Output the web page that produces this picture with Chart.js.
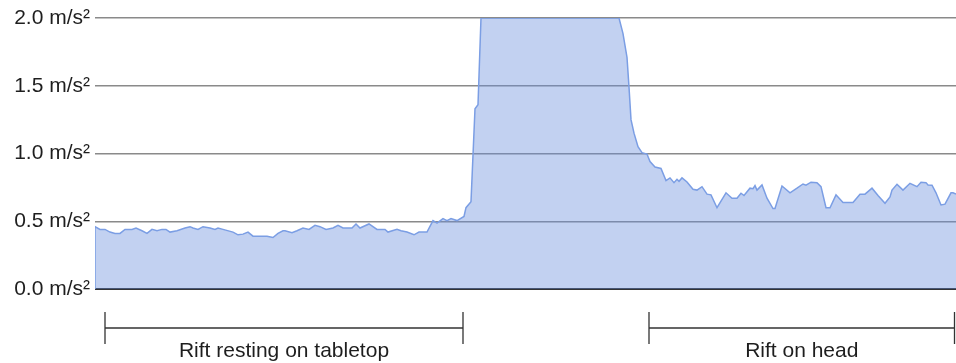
<!DOCTYPE html>
<html>
<head>
<meta charset="utf-8">
<script src="https://cdn.jsdelivr.net/npm/chart.js@4/dist/chart.umd.min.js"></script>
<style>
  html, body { margin: 0; padding: 0; background: #fff; }
  #wrap { width: 956px; height: 363px; position: relative; }
</style>
</head>
<body>
<div id="wrap"><canvas id="c"></canvas></div>
<script>
// sample index (time) and acceleration in m/s²
const times = [0,0,5,10,15,20,25,30,37,41,47,52,57,62,67,71,75,82,90,95,98,103,108,115,120,123,128,138,143,148,153,158,172,178,183,188,190,197,202,208,214,220,225,231,238,243,248,257,261,265,274,282,290,293,302,306,312,319,324,332,338,342,348,352,356,362,369,371,376,380,383,386,524,528,532,534,536,539,543,547,552,555,560,566,571,575,579,582,584,587,592,598,602,607,612,616,622,631,637,642,646,649,655,658,660,662,667,672,678,680,687,695,702,708,711,716,722,726,731,735,741,748,758,765,770,777,783,790,795,797,802,808,815,822,826,831,833,837,841,846,850,856,858,861];
const accel = [0,0.46,0.44,0.44,0.42,0.41,0.41,0.44,0.44,0.45,0.43,0.41,0.44,0.43,0.44,0.44,0.42,0.43,0.45,0.46,0.45,0.44,0.46,0.45,0.44,0.45,0.44,0.42,0.40,0.405,0.42,0.39,0.39,0.38,0.41,0.43,0.43,0.415,0.43,0.45,0.44,0.47,0.46,0.44,0.45,0.47,0.45,0.45,0.48,0.45,0.48,0.44,0.44,0.42,0.44,0.43,0.42,0.40,0.42,0.42,0.505,0.486,0.52,0.505,0.52,0.505,0.535,0.60,0.645,1.33,1.36,2.0,2.0,1.885,1.71,1.49,1.25,1.15,1.05,1.006,0.996,0.94,0.90,0.89,0.80,0.82,0.785,0.81,0.795,0.82,0.79,0.736,0.73,0.755,0.70,0.695,0.60,0.71,0.67,0.67,0.707,0.69,0.744,0.74,0.763,0.73,0.768,0.67,0.594,0.594,0.76,0.71,0.744,0.775,0.766,0.788,0.785,0.755,0.60,0.60,0.695,0.638,0.638,0.70,0.70,0.744,0.69,0.633,0.68,0.73,0.773,0.73,0.78,0.755,0.788,0.785,0.768,0.766,0.71,0.62,0.626,0.71,0.71,0.70];
const yTicks = [0, 0.5, 1.0, 1.5, 2.0];
const unitLabel = ' m/s\u00B2';
// annotated ranges (in sample index units)
const rangeStarts = [10, 554];
const rangeEnds = [368, 859.5];
const rangeLabels = ['Rift resting on tabletop', 'Rift on head'];

const FONT = '"Liberation Sans", Arial, sans-serif';

const bracketPlugin = {
  id: 'brackets',
  afterDraw(chart) {
    const ctx = chart.ctx;
    const xs = chart.scales.x;
    const base = chart.chartArea.bottom;
    const lineY = base + 39;
    ctx.save();
    ctx.strokeStyle = '#333';
    ctx.lineWidth = 1.3;
    ctx.fillStyle = '#1e1e1e';
    ctx.font = '21px ' + FONT;
    ctx.textAlign = 'center';
    ctx.textBaseline = 'alphabetic';
    for (let i = 0; i < rangeStarts.length; i++) {
      const x0 = xs.getPixelForValue(rangeStarts[i]);
      const x1 = xs.getPixelForValue(rangeEnds[i]);
      ctx.beginPath();
      ctx.moveTo(x0, lineY); ctx.lineTo(x1, lineY);
      ctx.moveTo(x0, lineY - 16); ctx.lineTo(x0, lineY + 16);
      ctx.moveTo(x1, lineY - 16); ctx.lineTo(x1, lineY + 16);
      ctx.stroke();
      ctx.fillText(rangeLabels[i], (x0 + x1) / 2, base + 68);
    }
    ctx.restore();
  }
};

new Chart(document.getElementById('c'), {
  type: 'line',
  data: {
    datasets: [{
      data: times.map((t, i) => ({ x: t, y: accel[i] })),
      borderColor: '#7b9ee4',
      borderWidth: 1.5,
      backgroundColor: 'rgba(102,140,220,0.4)',
      fill: 'origin',
      pointRadius: 0,
      tension: 0
    }]
  },
  options: {
    responsive: true,
    maintainAspectRatio: false,
    animation: false,
    layout: { padding: { top: 18, right: 0, bottom: 74, left: 0 } },
    plugins: { legend: { display: false }, tooltip: { enabled: false } },
    scales: {
      x: { type: 'linear', min: 0, max: 861, display: false },
      y: {
        min: 0, max: 2,
        afterBuildTicks: (s) => { s.ticks = yTicks.map(v => ({ value: v })); },
        afterFit: (s) => { s.width = 95; },
        border: { display: false },
        grid: {
          drawTicks: false,
          color: (c) => c.tick && c.tick.value === 0 ? '#333' : '#8a8a8a',
          lineWidth: (c) => c.tick && c.tick.value === 0 ? 2 : 1.5
        },
        ticks: {
          padding: 5,
          color: '#1e1e1e',
          font: { family: FONT, size: 21 },
          callback: (v) => Number(v).toFixed(1) + unitLabel
        }
      }
    }
  },
  plugins: [bracketPlugin]
});
</script>
</body>
</html>
